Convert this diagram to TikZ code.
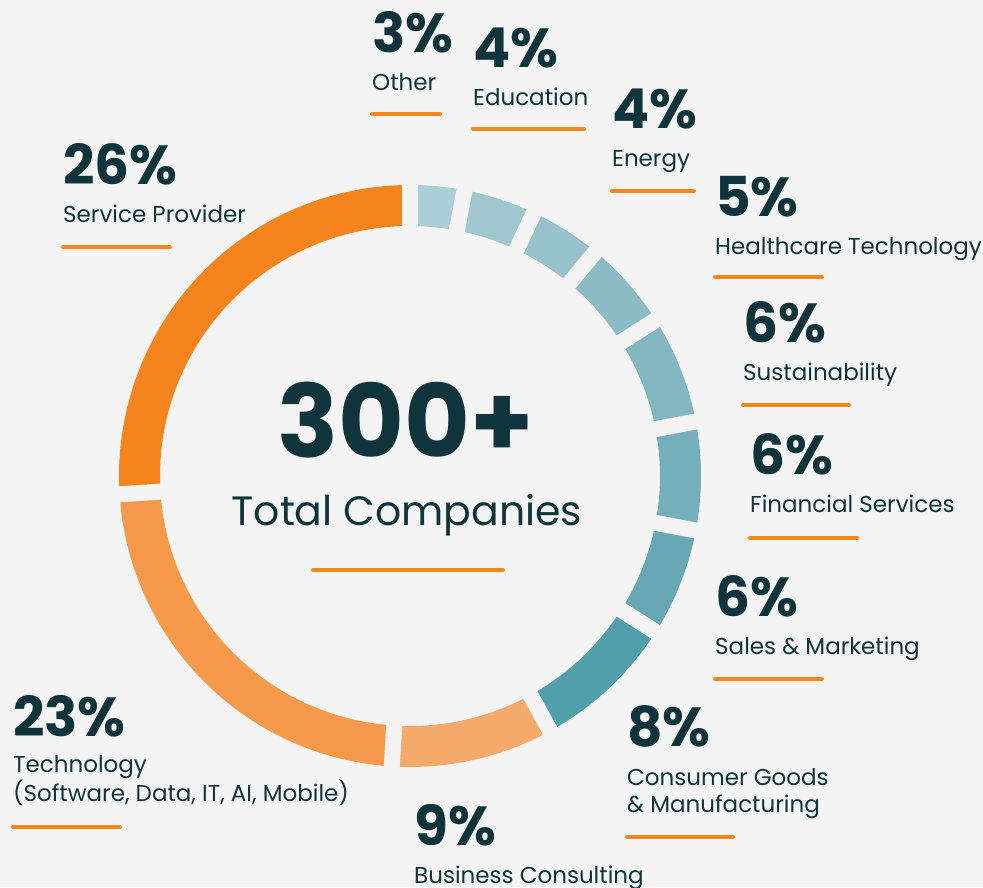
\documentclass[tikz,border=0pt]{standalone}
\usepackage{fontspec}
\setmainfont{Poppins}
\usetikzlibrary{positioning}

\definecolor{paper}{HTML}{F4F4F4}
\definecolor{ink}{HTML}{10343C}
\definecolor{tick}{HTML}{F5871F}
\definecolor{segService}{HTML}{F5841F}
\definecolor{segTech}{HTML}{F49A4A}
\definecolor{segBusiness}{HTML}{F4AA6A}
\definecolor{segConsumer}{HTML}{529FAC}
\definecolor{segSales}{HTML}{67A8B4}
\definecolor{segFinance}{HTML}{75AFBA}
\definecolor{segSustain}{HTML}{82B6C0}
\definecolor{segHealth}{HTML}{8BBBC4}
\definecolor{segEnergy}{HTML}{97C2CA}
\definecolor{segEdu}{HTML}{A0C7CE}
\definecolor{segOther}{HTML}{A9CED5}

\begin{document}
\begin{tikzpicture}[x=1pt,y=1pt,
    pct/.style={inner sep=0pt, anchor=base west, text=ink, font=\fontsize{55}{55}\selectfont\bfseries},
    lab/.style={inner sep=0pt, anchor=base west, text=ink, align=left, font=\fontsize{23}{27}\selectfont},
    rule/.style={draw=tick, line width=4pt, line cap=round}]

    \fill[paper] (0,0) rectangle (983,887);
    \useasboundingbox (0,0) rectangle (983,887);

    % ring
    \begin{scope}[shift={(410,411)}]
        \foreach \a/\b/\c in {90/79.2/segOther, 79.2/64.8/segEdu, 64.8/50.4/segEnergy,
            50.4/32.4/segHealth, 32.4/10.8/segSustain, 10.8/-10.8/segFinance,
            -10.8/-32.4/segSales, -32.4/-61.2/segConsumer, -61.2/-93.6/segBusiness,
            -93.6/-176.4/segTech, -176.4/-270/segService}{
            \fill[\c] (\a:291) arc[start angle=\a, end angle=\b, radius=291]
                -- (\b:250) arc[start angle=\b, end angle=\a, radius=250] -- cycle;
        }
        % gaps
        \foreach \g in {90,79.2,64.8,50.4,32.4,10.8,-10.8,-32.4,-61.2,-93.6,-176.4}
            \draw[paper, line width=16pt] (\g:240) -- (\g:300);
    \end{scope}

    % centre
    \node[inner sep=0pt, anchor=base, text=ink, font=\fontsize{101}{101}\selectfont\bfseries] (total) at (406,429) {300+};
    \node[inner sep=0pt, anchor=base, text=ink, font=\fontsize{41}{41}\selectfont] (totlab) at (407,361) {Total Companies};
    \draw[rule] (313,317) -- (503,317);

    % labels (\d = drop from percent baseline to last label baseline)
    \foreach \n/\x/\y/\p/\t/\d/\r/\w in {
        oth/372/834/3/Other/38/773/68,
        edu/473/819/4/Education/38/758/111,
        ene/612/758/4/Energy/38/696/82,
        hea/715/670/5/Healthcare Technology/38/610/107,
        sus/743/544/6/Sustainability/38/482/106,
        fin/750/412/6/Financial Services/38/349/107,
        sal/715/270/6/Sales \& Marketing/38/208/107,
        con/627/140/8/{Consumer Goods\\\& Manufacturing}/65/50/106,
        tec/13/150/23/{Technology\\(Software, Data, IT, AI, Mobile)}/64/60/107,
        ser/63/702/26/Service Provider/38/640/107}{
        \node[pct] (p\n) at (\x,\y) {\p\%};
        \node[lab] (l\n) at ([yshift=-\d pt]p\n.base west) {\t};
        \draw[rule] (\x,\r) -- ++(\w,0);
    };
    \node[pct] (pbus) at (414,42) {9\%};
    \node[lab] (lbus) at ([yshift=-38pt]pbus.base west) {Business Consulting};

\end{tikzpicture}
\end{document}
